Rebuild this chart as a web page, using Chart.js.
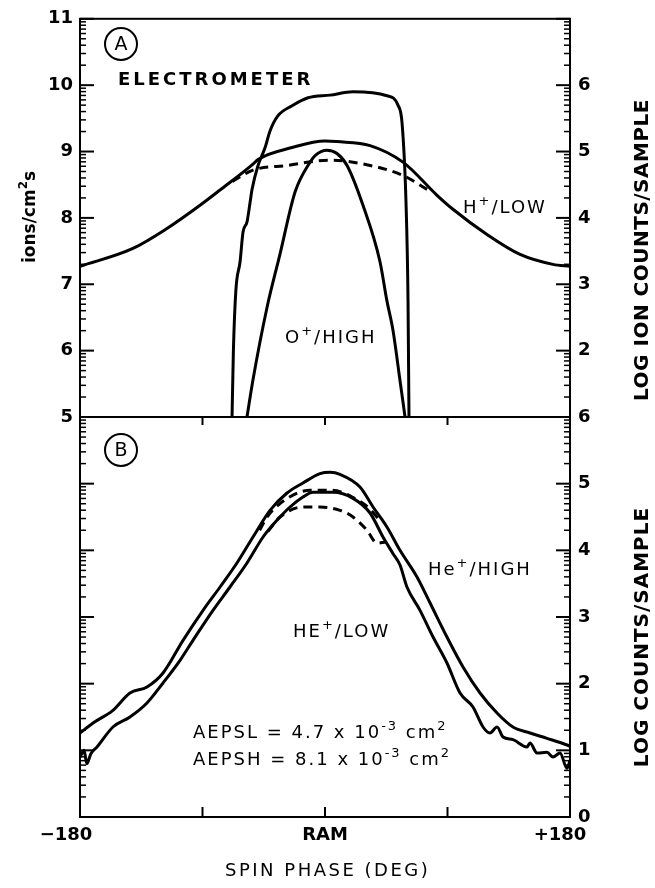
<!DOCTYPE html>
<html>
<head>
<meta charset="utf-8">
<script src="https://cdn.jsdelivr.net/npm/chart.js@4.4.1/dist/chart.umd.min.js"></script>
<style>
  html, body { margin: 0; padding: 0; background: #fff; }
  #wrap { position: relative; width: 655px; height: 888px; }
  #wrap canvas { position: absolute; left: 0; }
  #chartA { top: 0; }
  #chartB { top: 395px; }
</style>
</head>
<body>
<div id="wrap">
  <canvas id="chartA" width="655" height="440"></canvas>
  <canvas id="chartB" width="655" height="493"></canvas>
</div>
<script>
// ---- データ (読み取り値) ----
// パネルA: 左軸 ions/cm2s (5-11)
const hLowDeg = [-180, -141.1, -116.1, -91.8, -77.1, -52.9, -49.2, -24.2, 0, 8.8, 33.1, 57.3, 82.3, 94, 119, 143.3, 167.5, 180];
const hLowVal = [7.27, 7.54, 7.84, 8.19, 8.42, 8.81, 8.88, 9.06, 9.16, 9.15, 9.09, 8.84, 8.34, 8.13, 7.75, 7.45, 7.30, 7.27];

const hDashDeg = [-68, -52.9, -27.9, 3.7, 33.1, 57.3, 75];
const hDashVal = [8.55, 8.72, 8.79, 8.87, 8.79, 8.64, 8.43];

const elecDeg = [-68.3, -67.3, -65.5, -62.4, -60.2, -57.3, -55, -53.6, -49.2, -44, -40.4, -34.5, -24.2, -12.5, 3.7, 20.6, 45.5, 53.6, 56.6, 59.5, 61, 61.7];
const elecVal = [5.0, 6.0, 6.9, 7.34, 7.79, 7.94, 8.24, 8.43, 8.79, 9.06, 9.31, 9.54, 9.69, 9.81, 9.85, 9.90, 9.84, 9.70, 9.43, 8.24, 6.75, 5.0];

const oHighDeg = [-57.3, -53, -42.6, -33.1, -22, -11, -7.3, 1.5, 8.8, 16.2, 27.9, 40.4, 45.5, 50, 55.1, 58.8];
const oHighVal = [5.0, 5.55, 6.65, 7.45, 8.39, 8.84, 8.94, 9.02, 8.97, 8.79, 8.19, 7.34, 6.75, 6.30, 5.55, 5.0];

// パネルB: 右軸 LOG COUNTS/SAMPLE (0-6)
const heHighDeg = [-180, -170.4, -155.8, -143.3, -130.8, -119, -104.3, -89.6, -77.1, -64.7, -52.9, -40.4, -27.9, -16.2, -3.7, 3.7, 11, 25.7, 35.3, 45.5, 55.1, 67.6, 77.2, 89.6, 101.4, 113.9, 126.4, 138.1, 150.6, 163.1, 177.8, 180];
const heHighVal = [1.26, 1.41, 1.60, 1.86, 1.95, 2.16, 2.65, 3.10, 3.45, 3.81, 4.20, 4.60, 4.86, 5.01, 5.15, 5.17, 5.14, 4.95, 4.65, 4.35, 4.00, 3.60, 3.21, 2.70, 2.25, 1.86, 1.56, 1.35, 1.26, 1.18, 1.08, 1.06];

const heLowDeg = [-180, -177, -175, -172, -167.5, -155.8, -143.3, -130.8, -119, -106.5, -97, -82.3, -69.8, -57.3, -45.5, -35.3, -25.7, -16.2, -8.8, 5.9, 20.6, 33.1, 42.6, 50, 55.1, 60.2, 69.8, 79.4, 89.6, 99.2, 108.7, 116.1, 121.2, 126.4, 130.8, 138.1, 148.4, 150.6, 155.8, 163.1, 167.5, 172.7, 177.8, 180];
const heLowVal = [0.90, 1.00, 0.80, 0.95, 1.05, 1.35, 1.50, 1.71, 2.01, 2.35, 2.65, 3.10, 3.45, 3.81, 4.20, 4.45, 4.65, 4.80, 4.87, 4.87, 4.78, 4.56, 4.20, 3.95, 3.78, 3.45, 3.10, 2.70, 2.31, 1.86, 1.65, 1.35, 1.26, 1.35, 1.20, 1.16, 1.05, 1.11, 0.96, 0.97, 0.90, 0.96, 0.73, 0.85];

const heDashLoDeg = [-42, -33.1, -16.2, -3.7, 11, 20.6, 30.9, 38.2, 44];
const heDashLoVal = [4.28, 4.50, 4.65, 4.65, 4.60, 4.50, 4.30, 4.11, 4.12];

const heDashHiDeg = [-48, -42.6, -26, -11, 5, 20, 33, 40];
const heDashHiVal = [4.30, 4.50, 4.80, 4.90, 4.90, 4.80, 4.62, 4.45];

// 目盛り
const xTickVals = [-180, 0, 180];
const xTickText = ['\u2212180', 'RAM', '+180'];
const xTickShift = [-14, 0, -10];
const xInnerTicks = [-90, 0, 90];
const rightLabelsA = [2, 3, 4, 5, 6];

const FONT = '"DejaVu Sans", sans-serif';
const tickFont = { family: '"DejaVu Sans"', size: 18, weight: 'bold' };

function lineSet(deg, val, axis, dashed) {
  return {
    data: deg.map((d, i) => ({ x: d, y: val[i] })),
    yAxisID: axis,
    borderColor: '#000',
    borderWidth: 3,
    borderDash: dashed ? [9, 6] : [],
    pointRadius: 0,
    cubicInterpolationMode: 'monotone',
    fill: false
  };
}

// "^{..}" を上付きとして分解
function parseParts(str) {
  const parts = [];
  const re = /\^\{([^}]*)\}/g;
  let last = 0, m;
  while ((m = re.exec(str)) !== null) {
    if (m.index > last) parts.push({ t: str.slice(last, m.index), sup: false });
    parts.push({ t: m[1], sup: true });
    last = re.lastIndex;
  }
  if (last < str.length) parts.push({ t: str.slice(last), sup: false });
  return parts;
}

function drawRich(ctx, item) {
  const size = item.size || 18;
  const weight = item.bold ? 'bold' : 'normal';
  const parts = parseParts(item.t);
  ctx.letterSpacing = (item.spacing || 0) + 'px';
  let total = 0;
  parts.forEach(p => {
    ctx.font = weight + ' ' + (p.sup ? Math.round(size * 0.72) : size) + 'px ' + FONT;
    total += ctx.measureText(p.t).width;
  });
  let cx = 0;
  ctx.save();
  ctx.translate(item.x, item.y);
  if (item.rotate) { ctx.rotate(-Math.PI / 2); cx = -total / 2; }
  ctx.textAlign = 'left';
  ctx.textBaseline = 'alphabetic';
  parts.forEach(p => {
    ctx.font = weight + ' ' + (p.sup ? Math.round(size * 0.72) : size) + 'px ' + FONT;
    ctx.fillText(p.t, cx, p.sup ? -size * 0.45 : 0);
    cx += ctx.measureText(p.t).width;
  });
  ctx.restore();
  ctx.letterSpacing = '0px';
}

function minorTicks(lo, hi) {
  const out = [];
  for (let n = lo; n < hi; n++) {
    for (let k = 2; k <= 9; k++) out.push(n + Math.log10(k));
  }
  return out;
}

// 枠・目盛り・文字を描くプラグイン
function makeDecor(cfg) {
  return {
    id: 'decor',
    afterDraw(chart) {
      const { ctx, chartArea: a, scales } = chart;
      ctx.save();
      ctx.strokeStyle = '#000';
      ctx.fillStyle = '#000';
      ctx.lineWidth = 2;
      ctx.strokeRect(a.left, a.top, a.right - a.left, a.bottom - a.top);

      ['y', 'yR'].forEach(id => {
        const s = scales[id];
        const x0 = id === 'y' ? a.left : a.right;
        const dir = id === 'y' ? 1 : -1;
        ctx.lineWidth = 2;
        for (let v = Math.ceil(s.min); v <= s.max; v++) {
          const py = s.getPixelForValue(v);
          ctx.beginPath(); ctx.moveTo(x0, py); ctx.lineTo(x0 + dir * 14, py); ctx.stroke();
        }
        ctx.lineWidth = 1.5;
        minorTicks(Math.floor(s.min), Math.ceil(s.max)).forEach(v => {
          const py = s.getPixelForValue(v);
          ctx.beginPath(); ctx.moveTo(x0, py); ctx.lineTo(x0 + dir * 6, py); ctx.stroke();
        });
      });

      ctx.lineWidth = 2;
      (cfg.xTicks || []).forEach(t => {
        xInnerTicks.forEach(v => {
          const px = scales.x.getPixelForValue(v);
          const y0 = t.side === 'top' ? a.top : a.bottom;
          ctx.beginPath(); ctx.moveTo(px, y0); ctx.lineTo(px, y0 + t.dir * t.len); ctx.stroke();
        });
      });

      // x軸の数値ラベル
      if (cfg.xLabels) {
        ctx.font = 'bold 18px ' + FONT;
        ctx.textAlign = 'center';
        ctx.textBaseline = 'middle';
        xTickVals.forEach((v, i) => {
          ctx.fillText(xTickText[i], scales.x.getPixelForValue(v) + xTickShift[i], a.bottom + 18);
        });
      }

      (cfg.circles || []).forEach(c => {
        const cy = c.y - cfg.offsetY;
        ctx.lineWidth = 2;
        ctx.beginPath(); ctx.arc(c.x, cy, 16, 0, Math.PI * 2); ctx.stroke();
        ctx.font = 'normal 19px ' + FONT;
        ctx.textAlign = 'center';
        ctx.textBaseline = 'middle';
        ctx.fillText(c.t, c.x, cy + 1);
      });

      (cfg.texts || []).forEach(item => {
        drawRich(ctx, Object.assign({}, item, { y: item.y - cfg.offsetY }));
      });
      ctx.restore();
    }
  };
}

function yScale(pos, min, max, width, pad, cb) {
  return {
    type: 'linear',
    position: pos,
    min: min,
    max: max,
    ticks: { stepSize: 1, padding: pad, font: tickFont, color: '#000', callback: cb, display: cb !== null },
    grid: { display: false, drawTicks: false },
    border: { display: false },
    afterFit: s => { s.width = width; }
  };
}

// ---- パネルA ----
new Chart(document.getElementById('chartA'), {
  type: 'line',
  data: {
    datasets: [
      lineSet(hLowDeg, hLowVal, 'y', false),
      lineSet(hDashDeg, hDashVal, 'y', true),
      lineSet(elecDeg, elecVal, 'y', false),
      lineSet(oHighDeg, oHighVal, 'y', false)
    ]
  },
  options: {
    responsive: false,
    animation: false,
    layout: { padding: { top: 15, bottom: 23, left: 0, right: 0 } },
    plugins: { legend: { display: false }, tooltip: { enabled: false } },
    scales: {
      x: { type: 'linear', min: -180, max: 180, display: false },
      y: yScale('left', 5, 11, 80, 7, v => v),
      yR: yScale('right', 1, 7, 85, 8, v => (rightLabelsA.includes(v) ? v : ''))
    }
  },
  plugins: [makeDecor({
    offsetY: 0,
    circles: [{ t: 'A', x: 121, y: 44 }],
    texts: [
      { t: 'ELECTROMETER', x: 118, y: 85, bold: true, size: 18, spacing: 3 },
      { t: 'H^{+}/LOW', x: 463, y: 213, size: 18, spacing: 2 },
      { t: 'O^{+}/HIGH', x: 285, y: 343, size: 18, spacing: 2 },
      { t: 'ions/cm^{2}s', x: 35, y: 217, bold: true, size: 17, rotate: true },
      { t: 'LOG ION COUNTS/SAMPLE', x: 648, y: 250, bold: true, size: 20, spacing: 0.5, rotate: true }
    ]
  })]
});

// ---- パネルB ----
new Chart(document.getElementById('chartB'), {
  type: 'line',
  data: {
    datasets: [
      lineSet(heHighDeg, heHighVal, 'yR', false),
      lineSet(heLowDeg, heLowVal, 'yR', false),
      lineSet(heDashLoDeg, heDashLoVal, 'yR', true),
      lineSet(heDashHiDeg, heDashHiVal, 'yR', true)
    ]
  },
  options: {
    responsive: false,
    animation: false,
    layout: { padding: { top: 22, bottom: 0, left: 0, right: 0 } },
    plugins: { legend: { display: false }, tooltip: { enabled: false } },
    scales: {
      x: {
        type: 'linear',
        min: -180,
        max: 180,
        afterBuildTicks: s => { s.ticks = xTickVals.map(v => ({ value: v })); },
        ticks: { display: false },
        grid: { display: false, drawTicks: false },
        border: { display: false },
        afterFit: s => { s.height = 71; }
      },
      y: yScale('left', 0, 6, 80, 7, null),
      yR: yScale('right', 0, 6, 85, 8, v => v)
    }
  },
  plugins: [makeDecor({
    offsetY: 395,
    xLabels: true,
    xTicks: [{ side: 'top', dir: 1, len: 8 }, { side: 'bottom', dir: -1, len: 10 }],
    circles: [{ t: 'B', x: 121, y: 450 }],
    texts: [
      { t: 'He^{+}/HIGH', x: 428, y: 575, size: 18, spacing: 2 },
      { t: 'HE^{+}/LOW', x: 293, y: 637, size: 18, spacing: 2 },
      { t: 'AEPSL = 4.7 x 10^{-3} cm^{2}', x: 193, y: 738, size: 18, spacing: 2 },
      { t: 'AEPSH = 8.1 x 10^{-3} cm^{2}', x: 193, y: 765, size: 18, spacing: 2 },
      { t: 'SPIN PHASE (DEG)', x: 225, y: 876, size: 18, spacing: 2.5 },
      { t: 'LOG COUNTS/SAMPLE', x: 648, y: 637, bold: true, size: 20, spacing: 1, rotate: true }
    ]
  })]
});
</script>
</body>
</html>
